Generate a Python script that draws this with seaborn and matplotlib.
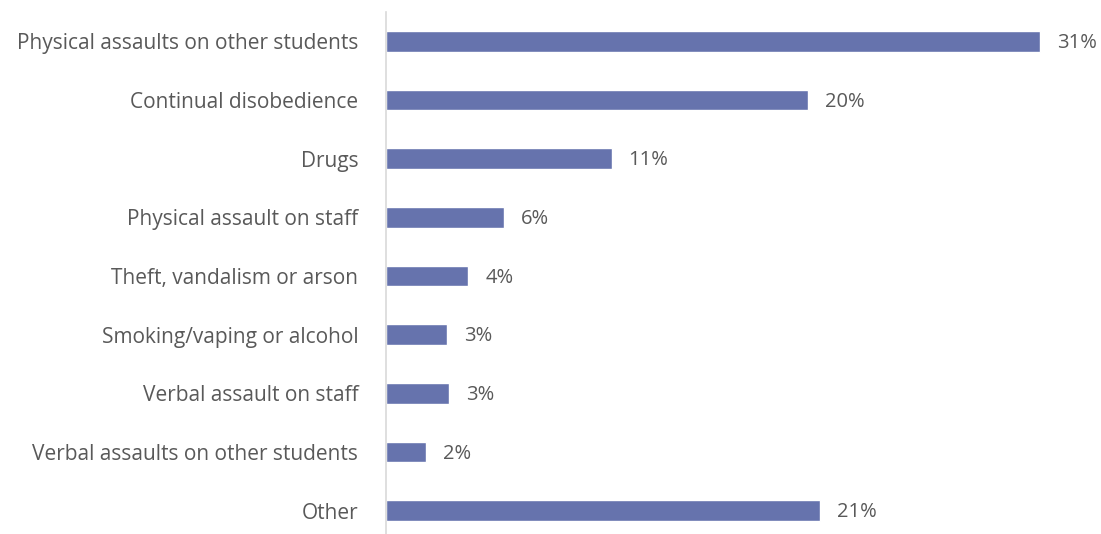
import matplotlib
matplotlib.use("Agg")
import matplotlib.pyplot as plt
import seaborn as sns
import pandas as pd

categories = [
    "Physical assaults on other students",
    "Continual disobedience",
    "Drugs",
    "Physical assault on staff",
    "Theft, vandalism or arson",
    "Smoking/vaping or alcohol",
    "Verbal assault on staff",
    "Verbal assaults on other students",
    "Other",
]
shares = [31.0, 20.0, 10.7, 5.6, 3.9, 2.9, 3.0, 1.9, 20.6]

df = pd.DataFrame({"category": categories, "share": shares})

sns.set_theme(style="white")
plt.rcParams["font.family"] = ["Open Sans", "DejaVu Sans"]

W, H = 1101, 534
fig = plt.figure(figsize=(W / 100, H / 100), dpi=100)
ax = fig.add_axes([386 / W, -6 / H, (W - 386) / W, (534 - 12 + 6) / H])

sns.barplot(data=df, x="share", y="category", color="#6673AD",
            saturation=1, width=0.35, ax=ax, orient="h")

ax.set_xlim(0, 33.9)
ax.set_xlabel("")
ax.set_ylabel("")
ax.set_xticks([])
for side in ["top", "right", "bottom"]:
    ax.spines[side].set_visible(False)
ax.spines["left"].set_color("#d9d9d9")
ax.spines["left"].set_linewidth(1.2)
ax.tick_params(axis="y", length=0, pad=20, labelsize=15, labelcolor="#595959")

for i, v in enumerate(shares):
    ax.text(v + 0.8, i + 0.03, f"{v:.0f}%", va="center", ha="left",
            fontsize=14.5, color="#595959")

fig.savefig("out.png", dpi=100)
